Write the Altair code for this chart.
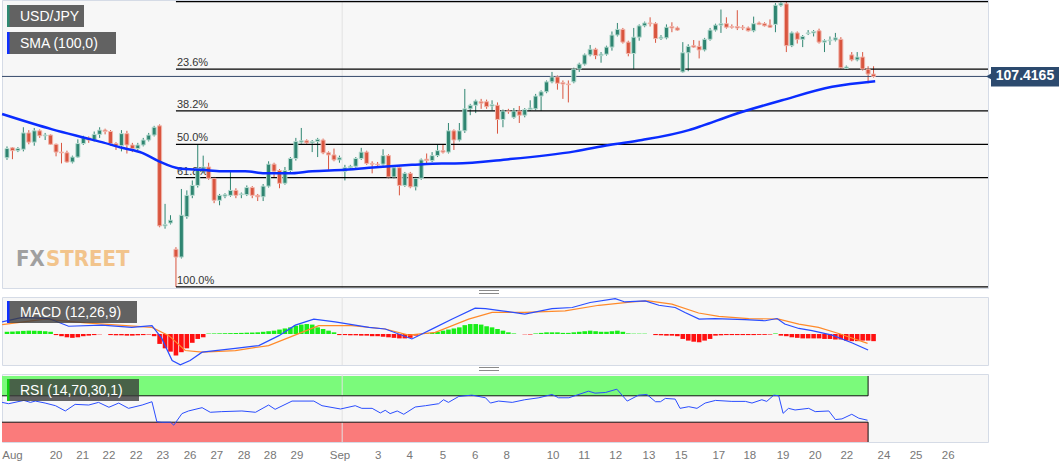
import altair as alt
import pandas as pd

# ---------------- data ----------------
opens = [106.27,106.41,106.37,106.39,106.62,106.49,106.65,106.58,106.59,106.46,
         106.35,106.34,106.21,106.28,106.47,106.55,106.52,106.60,106.66,106.64,
         106.47,106.44,106.61,106.45,106.40,106.45,106.52,106.59,106.72,105.31,
         105.35,104.98,104.87,105.44,105.74,105.88,106.11,106.14,105.98,105.67,
         105.73,105.74,105.81,105.75,105.75,105.85,105.74,105.72,105.87,106.18,
         106.09,105.91,106.09,106.26,106.49,106.51,106.48,106.50,106.52,106.34,
         106.31,106.24,106.08,106.13,106.15,106.26,106.35,106.19,106.18,106.18,
         106.30,106.00,106.13,105.88,106.05,105.86,105.98,106.25,106.23,106.30,
         106.37,106.35,106.65,106.52,106.65,106.96,107.01,107.06,107.06,107.00,
         107.01,106.81,106.93,106.84,106.93,106.87,106.95,106.96,107.14,107.20,
         107.34,107.41,107.33,107.31,107.34,107.52,107.59,107.72,107.80,107.71,
         107.73,107.83,108.00,108.08,107.90,107.74,107.97,108.13,108.17,108.16,
         107.95,107.96,108.12,108.10,107.48,107.75,107.85,107.84,107.79,107.94,
         108.07,108.14,108.16,108.12,108.12,108.11,108.10,108.06,108.17,108.16,
         108.14,108.15,108.42,108.44,107.85,108.03,107.94,108.02,108.03,108.06,
         107.90,107.92,107.93,107.94,107.53,107.72,107.65,107.69,107.52,107.45]
highs = [106.43,106.42,106.42,106.70,106.66,106.69,106.67,106.62,106.60,106.47,
         106.48,106.37,106.30,106.53,106.58,106.57,106.64,106.70,106.68,106.66,
         106.49,106.66,106.65,106.48,106.48,106.55,106.62,106.72,106.74,105.62,
         105.46,105.01,105.83,105.81,105.95,106.45,106.30,106.20,106.00,105.76,
         105.77,106.08,105.84,105.78,105.88,105.87,105.76,105.90,106.22,106.20,
         106.11,106.14,106.28,106.55,106.69,106.53,106.52,106.55,106.54,106.36,
         106.40,106.30,106.17,106.17,106.28,106.41,106.37,106.22,106.21,106.39,
         106.32,106.15,106.15,106.07,106.07,106.00,106.26,106.33,106.35,106.45,
         106.46,106.76,106.67,106.76,107.24,107.03,107.09,107.10,107.09,107.08,
         107.05,106.95,106.96,106.97,107.00,106.97,107.08,107.17,107.22,107.36,
         107.48,107.43,107.36,107.36,107.54,107.61,107.74,107.86,107.82,107.76,
         107.85,108.05,108.17,108.10,107.92,108.10,108.15,108.19,108.25,108.18,
         108.00,108.15,108.18,108.12,107.90,107.87,107.93,107.92,107.96,108.10,
         108.16,108.36,108.25,108.15,108.35,108.14,108.12,108.26,108.19,108.18,
         108.22,108.45,108.47,108.47,108.05,108.05,108.00,108.07,108.07,108.09,
         107.94,107.98,108.03,107.97,107.57,107.76,107.76,107.76,107.56,107.56]
lows = [106.24,106.25,106.35,106.36,106.46,106.44,106.55,106.52,106.45,106.29,
        106.19,106.20,106.19,106.27,106.45,106.48,106.50,106.55,106.60,106.44,
        106.38,106.36,106.33,106.35,106.38,106.43,106.50,106.57,105.29,105.27,
        105.33,104.45,104.85,105.41,105.70,105.85,106.05,105.96,105.63,105.60,
        105.70,105.72,105.70,105.70,105.73,105.70,105.66,105.66,105.85,106.00,
        105.84,105.89,106.07,106.23,106.47,106.46,106.35,106.28,106.32,106.10,
        106.22,106.20,105.95,106.10,106.13,106.24,106.17,106.05,106.14,106.16,
        105.98,105.98,105.74,105.86,105.84,105.81,105.96,106.17,106.21,106.28,
        106.33,106.33,106.38,106.50,106.62,106.87,106.90,106.96,106.96,106.94,
        106.61,106.70,106.89,106.82,106.76,106.84,106.93,106.94,106.93,107.18,
        107.32,107.23,107.10,107.05,107.32,107.48,107.57,107.70,107.66,107.61,
        107.71,107.78,107.98,107.88,107.70,107.52,107.92,108.11,108.12,107.89,
        107.93,107.94,108.04,108.06,107.47,107.49,107.82,107.67,107.77,107.92,
        108.05,108.03,108.09,108.09,108.07,108.07,108.05,108.04,108.14,108.12,
        108.10,108.04,108.40,107.76,107.83,107.88,107.83,108.00,107.98,107.88,
        107.76,107.86,107.91,107.52,107.51,107.63,107.63,107.50,107.32,107.40]
closes = [106.40,106.37,106.40,106.62,106.49,106.65,106.58,106.59,106.46,106.35,
          106.34,106.21,106.28,106.47,106.55,106.52,106.60,106.66,106.64,106.47,
          106.44,106.61,106.45,106.40,106.45,106.52,106.59,106.70,105.31,105.33,
          105.39,104.87,105.46,105.74,105.88,106.12,106.14,105.98,105.67,105.74,
          105.75,105.81,105.74,105.76,105.85,105.74,105.72,105.87,106.18,106.08,
          105.91,106.09,106.26,106.50,106.51,106.48,106.50,106.53,106.34,106.31,
          106.24,106.27,106.13,106.15,106.26,106.35,106.19,106.18,106.17,106.30,
          106.00,106.13,105.88,106.05,105.86,105.98,106.24,106.23,106.30,106.37,
          106.35,106.65,106.52,106.65,106.96,107.01,107.07,107.04,106.99,107.02,
          106.81,106.93,106.92,106.93,106.87,106.95,106.97,107.14,107.20,107.34,
          107.41,107.32,107.31,107.30,107.52,107.59,107.72,107.80,107.71,107.73,
          107.83,108.00,108.08,107.90,107.74,107.97,108.13,108.17,108.16,107.95,
          107.97,108.11,108.10,108.07,107.75,107.84,107.83,107.79,107.94,108.07,
          108.14,108.16,108.11,108.11,108.10,108.10,108.06,108.16,108.15,108.13,
          108.11,108.42,108.45,107.85,108.03,107.94,107.98,108.03,108.05,107.90,
          107.92,107.93,107.96,107.54,107.55,107.65,107.69,107.52,107.45,107.4165]

sma_pos = [-0.9, 8.3, 13.8, 17.4, 21.1, 24.8, 27.9, 31.6, 35.8, 39.4, 43.7, 47.3, 51.7,
           56.0, 62.0, 68.3, 74.3, 79.8, 82.2, 92.1, 104.2, 110.5, 116.5, 125.1, 127.5,
           133.0, 142.2, 151.4, 159.3]
sma_val = [106.886, 106.67, 106.56, 106.49, 106.41, 106.34, 106.22, 106.12, 106.10, 106.08,
           106.08, 106.05, 106.05, 106.08, 106.10, 106.14, 106.17, 106.19, 106.19, 106.25,
           106.36, 106.45, 106.52, 106.66, 106.72, 106.87, 107.08, 107.27, 107.35]

fib_label = ["0.0%", "23.6%", "38.2%", "50.0%", "61.8%", "100.0%"]
fib_level = [108.47, 107.52, 106.93, 106.46, 105.99, 104.45]
fib_show = [False, True, True, True, True, True]
fib_start = 31
last_price = 107.4165
price_ticks = [104.5, 105.0, 105.5, 106.0, 106.5, 107.0, 107.5, 108.0]

macd_hist = [0.02, 0.022, 0.025, 0.028, 0.03, 0.03, 0.028, 0.025, 0.02,
             -0.01, -0.02, -0.03, -0.035, -0.03, -0.02, -0.015, -0.01,
             -0.003, 0.0,
             -0.01, -0.012, -0.012, -0.015, -0.015, -0.012, -0.01,
             -0.005, -0.02,
             -0.09, -0.13, -0.16, -0.195, -0.165, -0.13, -0.08, -0.045, -0.03,
             0.004, 0.005, 0.006, 0.007, 0.008, 0.009, 0.01, 0.012, 0.013,
             0.015, 0.02, 0.025, 0.03, 0.04,
             0.05, 0.06, 0.075, 0.085, 0.09, 0.085,
             0.06, 0.045, 0.03, 0.015,
             -0.01, -0.01, -0.012, -0.012, -0.015, -0.015, -0.02, -0.02,
             -0.025, -0.03, -0.035, -0.04, -0.04, -0.035,
             -0.015, 0.0,
             0.005, 0.01, 0.02, 0.03,
             0.04, 0.05, 0.06, 0.08, 0.09, 0.09, 0.085,
             0.07, 0.06, 0.045, 0.03, 0.015,
             0.005, 0.0,
             -0.003, -0.005, 0.005,
             0.01, 0.015, 0.015, 0.015, 0.01, 0.01, 0.015, 0.02, 0.025, 0.03, 0.025, 0.02, 0.02, 0.025, 0.03, 0.02,
             0.005, 0.003, 0.003, 0.003, 0.0,
             -0.01, -0.012, -0.015, -0.015, -0.02,
             -0.045, -0.06, -0.07, -0.075, -0.06, -0.045,
             -0.015, -0.012, -0.01, -0.01, -0.01, -0.01, -0.01, -0.01, -0.008, -0.008, -0.005,
             0.005,
             -0.015, -0.02, -0.03, -0.035, -0.04, -0.04, -0.04, -0.04, -0.045, -0.045,
             -0.05, -0.05, -0.06, -0.065, -0.065, -0.06, -0.06, -0.065]

macd_pos = [-0.9, 2.8, 7.7, 11.3, 17.4, 22.9, 26.6, 28.4, 30.3, 31.8, 33.6, 35.8, 41.9, 46.2,
            49.9, 52.9, 56.3, 60.2, 66.4, 69.4, 74.3, 78.6, 81.7, 85.9, 87.8, 90.8, 95.0, 100.0,
            103.7, 107.0, 111.6, 113.4, 117.1, 119.6, 122.6, 124.4, 127.0, 129.9, 135.4, 139.1,
            141.3, 142.7, 145.3, 147.7, 151.4, 155.0, 158.0]
macd_val = [0.11, 0.15, 0.14, 0.07, 0.08, 0.06, 0.075, -0.04, -0.24, -0.28, -0.24, -0.165, -0.13,
            -0.105, -0.015, 0.08, 0.135, 0.11, 0.06, 0.045, -0.045, 0.06, 0.135, 0.234, 0.23, 0.21,
            0.18, 0.23, 0.24, 0.285, 0.32, 0.29, 0.30, 0.26, 0.24, 0.195, 0.135, 0.14, 0.13, 0.12,
            0.14, 0.09, 0.05, 0.03, -0.01, -0.08, -0.145]
sig_pos = [-0.9, 7.0, 14.4, 26.6, 29.7, 32.7, 35.8, 41.9, 48.0, 54.1, 57.2, 63.3, 69.4, 73.7,
           78.6, 84.7, 89.0, 95.0, 102.4, 108.6, 114.7, 117.7, 122.0, 126.9, 130.6, 136.1, 141.6,
           145.3, 148.9, 152.9, 157.9]
sig_val = [0.085, 0.135, 0.10, 0.06, -0.015, -0.15, -0.165, -0.15, -0.105, 0.015, 0.075, 0.075,
           0.045, -0.01, 0.015, 0.135, 0.195, 0.195, 0.21, 0.26, 0.29, 0.30, 0.27, 0.19, 0.16,
           0.14, 0.135, 0.09, 0.06, 0.0, -0.085]

rsi_pos = [-0.9, 0.3, 3.1, 4.3, 5.2, 7.0, 8.9, 10.7, 12.5, 15.0,
           16.8, 18.7, 20.5, 22.3, 24.8, 26.6, 27.5, 28.4, 30.0, 30.6,
           32.1, 33.3, 35.8, 37.3, 39.4, 43.1, 45.6, 48.0, 49.2, 52.3,
           56.3, 57.8, 61.2, 63.9, 65.1, 67.0, 68.5, 69.4, 70.3, 71.6,
           72.8, 74.9, 76.8, 79.2, 80.1, 81.0, 82.9, 85.3, 87.8, 88.7,
           90.2, 92.7, 95.0, 97.6, 100.0, 101.2, 103.1, 106.7, 107.9, 109.8,
           111.9, 113.8, 115.9, 117.4, 119.0, 119.9, 120.8, 122.6, 123.5, 125.1,
           126.6, 128.1, 130.0, 133.0, 135.5, 136.7, 138.5, 139.4, 140.7, 141.6,
           142.4, 143.4, 144.6, 147.1, 148.3, 150.8, 152.0, 153.2, 155.0, 156.3,
           157.9]
rsi_val = [60, 58, 63, 60, 62, 59, 55, 47, 57, 56,
           60, 52.6, 59, 51, 56, 61, 30.6, 30, 30, 25.5,
           43, 47, 52, 45, 46, 47, 45, 56, 49.5, 62,
           62, 55, 50, 55, 51, 51, 44, 48, 43, 47,
           42, 53, 55, 58, 64, 60, 69, 71, 67, 59,
           62, 60, 64, 67, 72, 67, 67, 77, 74, 75,
           80, 62, 71, 72, 61, 61, 66, 65, 51, 53.5,
           51, 59, 63, 61.5, 61.5, 59, 64, 61.5, 71, 70,
           43.4, 51, 48.5, 51, 46, 47, 34, 35, 42, 36,
           33]

xt_pos = [1.0, 9.0, 13.9, 18.7, 23.7, 28.6, 33.6, 38.5, 43.5, 48.3, 53.2, 61.1, 68.1, 73.9,
          80.0, 85.9, 91.7, 100.2, 105.9, 111.7, 117.8, 123.7, 130.6, 136.3, 142.4, 148.3,
          154.1, 160.9, 166.8, 172.7]
xt_text = ["Aug", "20", "21", "22", "22", "23", "26", "27", "28", "28", "29", "Sep", "3", "4",
           "5", "6", "8", "10", "11", "12", "13", "15", "17", "18", "19", "20", "22", "24", "25", "26"]

# ---------------- styling ----------------
W = 986
H_PRICE, H_MACD, H_RSI = 288, 68, 68
XDOM = [-0.917, 180.0]
BAND_END = 158.0
SEP_POS = 61.5
UP, DOWN = "#2f8571", "#d9553f"
UP_EDGE, DOWN_EDGE = "#b7dbd0", "#f1b5ab"
FONT = "Liberation Sans"

xsc = alt.Scale(domain=XDOM, nice=False, zero=False, padding=0)
one = pd.DataFrame({"k": [0]})


def legend_box(x0, x1, y0, y1, bar_color, label):
    bg = alt.Chart(one).mark_rect(color="#3c3c3c", opacity=0.8).encode(
        x=alt.value(x0), x2=alt.value(x1), y=alt.value(y0), y2=alt.value(y1))
    bar = alt.Chart(one).mark_rect(color=bar_color).encode(
        x=alt.value(x0), x2=alt.value(x0 + 2.5), y=alt.value(y0), y2=alt.value(y1))
    txt = alt.Chart(pd.DataFrame({"t": [label]})).mark_text(
        color="white", fontSize=14, font=FONT, align="left", baseline="middle").encode(
        x=alt.value(x0 + 13), y=alt.value((y0 + y1) / 2 + 1), text="t:N")
    return [bg, bar, txt]


def sep_grid():
    return alt.Chart(pd.DataFrame({"p": [SEP_POS]})).mark_rule(color="#e2e2e2").encode(
        x=alt.X("p:Q", scale=xsc, axis=None))


def handle():
    return [alt.Chart(one).mark_rule(color="#8a8a8a", strokeWidth=1).encode(
        x=alt.value(477), x2=alt.value(497), y=alt.value(v)) for v in (-6.5, -3.5)]

# ---------------- price panel ----------------
candles = pd.DataFrame({"i": list(range(len(opens))), "open": opens, "high": highs,
                        "low": lows, "close": closes})
candles["dir"] = ["up" if c >= o else "down" for o, c in zip(opens, closes)]

PY = alt.Scale(domain=[104.434, 108.494], nice=False, zero=False)
dir_color = alt.Color("dir:N", scale=alt.Scale(domain=["up", "down"], range=[UP, DOWN]), legend=None)
dir_stroke = alt.Stroke("dir:N", scale=alt.Scale(domain=["up", "down"], range=[UP_EDGE, DOWN_EDGE]), legend=None)

wicks = alt.Chart(candles).mark_rule(strokeWidth=1).encode(
    x=alt.X("i:Q", scale=xsc, axis=None),
    y=alt.Y("low:Q", scale=PY, title=None,
            axis=alt.Axis(orient="right", values=price_ticks, format=".4f", grid=True)),
    y2="high:Q",
    color=dir_color)
bodies = alt.Chart(candles).mark_bar(size=4, strokeWidth=1).encode(
    x=alt.X("i:Q", scale=xsc, axis=None),
    y=alt.Y("open:Q", scale=PY, axis=None),
    y2="close:Q",
    color=dir_color, stroke=dir_stroke)

fib_df = pd.DataFrame({"level": fib_level, "label": fib_label, "show": fib_show})
fib_df["start"] = fib_start
fib_df["end"] = XDOM[1]
fib_lines = alt.Chart(fib_df).mark_rule(color="black", strokeWidth=1.3).encode(
    x=alt.X("start:Q", scale=xsc, axis=None), x2="end:Q",
    y=alt.Y("level:Q", scale=PY, axis=None))
fib_text = alt.Chart(fib_df[fib_df["show"]]).mark_text(
    align="left", baseline="bottom", dx=1, dy=-1, fontSize=11, font=FONT, color="#333333").encode(
    x=alt.X("start:Q", scale=xsc, axis=None), y=alt.Y("level:Q", scale=PY, axis=None), text="label:N")

sma_df = pd.DataFrame({"pos": sma_pos, "val": sma_val})
sma_line = alt.Chart(sma_df).mark_line(color="#0a2cff", strokeWidth=2.5, interpolate="monotone").encode(
    x=alt.X("pos:Q", scale=xsc, axis=None), y=alt.Y("val:Q", scale=PY, axis=None))

lp_df = pd.DataFrame({"p": [last_price], "a": [XDOM[0]], "b": [XDOM[1]],
                      "label": [f"{last_price:.4f}"]})
lp_line = alt.Chart(lp_df).mark_rule(color="#34496a", strokeWidth=1).encode(
    x=alt.X("a:Q", scale=xsc, axis=None), x2="b:Q", y=alt.Y("p:Q", scale=PY, axis=None))
BOX = "#2c4a6e"
lp_box = alt.Chart(lp_df).mark_rect(color=BOX).encode(
    x=alt.value(989), x2=alt.value(1057), y=alt.value(67), y2=alt.value(86.5))
lp_arrow = alt.Chart(lp_df).mark_point(shape="triangle-left", filled=True, size=45, color=BOX, opacity=1).encode(
    x=alt.value(987), y=alt.Y("p:Q", scale=PY, axis=None))
lp_text = alt.Chart(lp_df).mark_text(color="white", fontWeight="bold", fontSize=14, font=FONT,
                                     baseline="middle").encode(
    x=alt.value(1023), y=alt.Y("p:Q", scale=PY, axis=None), text="label:N")

WM_FONT = "Liberation Sans Narrow, DejaVu Sans Condensed, Roboto"
wm_fx = alt.Chart(pd.DataFrame({"t": ["FX"]})).mark_text(
    font=WM_FONT, fontWeight="bold", fontSize=22,
    color="#a0a0a0", align="left", baseline="alphabetic").encode(
    x=alt.value(14), y=alt.value(266), text="t:N")
wm_st = alt.Chart(pd.DataFrame({"t": ["STREET"]})).mark_text(
    font=WM_FONT, fontWeight="bold", fontSize=22,
    color="#f2c48c", align="left", baseline="alphabetic").encode(
    x=alt.value(44), y=alt.value(266), text="t:N")

price = alt.layer(
    wicks, sep_grid(), fib_lines, fib_text, lp_line, wm_fx, wm_st, bodies, sma_line,
    lp_box, lp_arrow, lp_text,
    *legend_box(5, 82, 5, 27, "#2f8a73", "USD/JPY"),
    *legend_box(5, 114, 32, 54, "#1030ff", "SMA (100,0)"),
).properties(width=W, height=H_PRICE)

# ---------------- MACD panel ----------------
MY = alt.Scale(domain=[-0.281, 0.335], nice=False, zero=False)
hist_df = pd.DataFrame({"i": list(range(len(macd_hist))), "h": macd_hist})
hist_df["sign"] = ["pos" if v >= 0 else "neg" for v in macd_hist]
hist = alt.Chart(hist_df).mark_bar(size=4.6).encode(
    x=alt.X("i:Q", scale=xsc, axis=None),
    y=alt.Y("h:Q", scale=MY, title=None,
            axis=alt.Axis(orient="right", values=[-0.2, 0.0, 0.2], format=".4f", grid=True)),
    y2=alt.datum(0),
    color=alt.Color("sign:N", scale=alt.Scale(domain=["pos", "neg"], range=["#18ee18", "#ff1010"]), legend=None))
macd_line = alt.Chart(pd.DataFrame({"pos": macd_pos, "v": macd_val})).mark_line(
    color="#2a4dff", strokeWidth=1.2).encode(
    x=alt.X("pos:Q", scale=xsc, axis=None), y=alt.Y("v:Q", scale=MY, axis=None))
sig_line = alt.Chart(pd.DataFrame({"pos": sig_pos, "v": sig_val})).mark_line(
    color="#ff8a2a", strokeWidth=1.2).encode(
    x=alt.X("pos:Q", scale=xsc, axis=None), y=alt.Y("v:Q", scale=MY, axis=None))

macd = alt.layer(
    hist, sep_grid(), sig_line, macd_line,
    *legend_box(5, 135, 4, 26, "#1030ff", "MACD (12,26,9)"),
    *handle(),
).properties(width=W, height=H_MACD)

# ---------------- RSI panel ----------------
RY = alt.Scale(domain=[0, 103], nice=False, zero=False)
band_df = pd.DataFrame({"lo": [70, 0], "hi": [100, 30], "kind": ["over", "under"]})
band_df["a"] = XDOM[0]
band_df["b"] = BAND_END
bands = alt.Chart(band_df).mark_rect().encode(
    x=alt.X("a:Q", scale=xsc, axis=None), x2="b:Q",
    y=alt.Y("lo:Q", scale=RY, title=None,
            axis=alt.Axis(orient="right", values=[0, 50], format=".4f", grid=True)),
    y2="hi:Q",
    color=alt.Color("kind:N", scale=alt.Scale(domain=["over", "under"], range=["#7bfa7b", "#fa7b7b"]), legend=None))
edge_df = pd.DataFrame({
    "x1": [XDOM[0], XDOM[0], BAND_END, BAND_END],
    "x2": [BAND_END, BAND_END, BAND_END, BAND_END],
    "y1": [70, 30, 70, 0],
    "y2": [70, 30, 100, 30]})
edges = alt.Chart(edge_df).mark_rule(color="#111111", strokeWidth=1).encode(
    x=alt.X("x1:Q", scale=xsc, axis=None), x2="x2:Q",
    y=alt.Y("y1:Q", scale=RY, axis=None), y2="y2:Q")
rsi_line = alt.Chart(pd.DataFrame({"pos": rsi_pos, "v": rsi_val})).mark_line(
    color="#2a4dff", strokeWidth=1).encode(
    x=alt.X("pos:Q", scale=xsc, axis=None), y=alt.Y("v:Q", scale=RY, axis=None))
xlabels = alt.Chart(pd.DataFrame({"pos": xt_pos, "t": xt_text})).mark_text(
    fontSize=11.5, font=FONT, color="#777777", baseline="middle").encode(
    x=alt.X("pos:Q", scale=xsc, axis=None), y=alt.value(H_RSI + 14), text="t:N")

rsi = alt.layer(
    bands, sep_grid(), edges, rsi_line, xlabels,
    *legend_box(5, 137, 5, 27, "#10d010", "RSI (14,70,30,1)"),
    *handle(),
).properties(width=W, height=H_RSI)

chart = alt.vconcat(price, macd, rsi, spacing=9, bounds="flush").resolve_scale(
    color="independent", stroke="independent"
).properties(
    padding={"left": -4, "top": -1, "right": 0, "bottom": 0}, background="white"
).configure_view(
    fill="#f7f7f7", stroke="#d5dbe6", strokeWidth=1
).configure_axis(
    labelFont=FONT, labelFontSize=11.5, labelColor="#666666", tickColor="#c4c4c4",
    tickSize=5, domain=False, gridColor="#e4e4e4", gridWidth=1, labelPadding=2
)

chart.save("out.html", embed_options={"renderer": "svg", "actions": False})
